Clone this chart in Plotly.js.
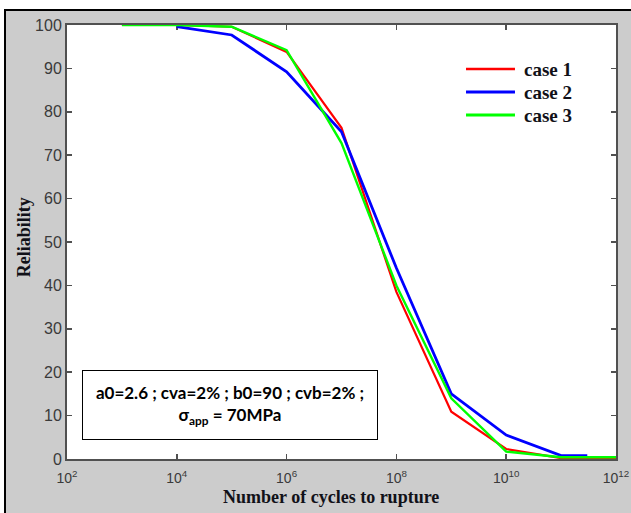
<!DOCTYPE html>
<html>
<head>
<meta charset="utf-8">
<script src="https://cdn.plot.ly/plotly-3.0.1.min.js"></script>
<style>
  html, body { margin: 0; padding: 0; background: #ffffff; }
  #bg { position: absolute; left: 4px; top: 9px; width: 627px; height: 504px;
        background: #cccccc; border-top: 2px solid #000; border-left: 2px solid #000;
        box-sizing: border-box; }
  #chart { position: absolute; left: 0; top: 0; width: 631px; height: 513px; }
</style>
</head>
<body>
<div id="bg"></div>
<div id="chart"></div>
<script>
// Number of cycles to rupture (x) and reliability (%) for each case
const cycles = [1e3, 1e4, 1e5, 1e6, 1e7, 1e8, 1e9, 1e10, 1e11, 1e12];
const cyclesCase2 = [1e4, 1e5, 1e6, 1e7, 1e8, 1e9, 1e10, 1e11, 3e11];
const case1 = [100, 100, 99.6, 93.8, 76.3, 38.5, 10.9, 2.3, 0.2, 0.1];
const case2 = [99.6, 97.7, 89.2, 75.4, 44.0, 15.0, 5.5, 0.8, 0.8];
const case3 = [100, 100, 99.6, 94.2, 72.8, 40.0, 14.0, 1.7, 0.4, 0.4];
const seriesNames = ['case 1', 'case 2', 'case 3'];
const seriesColors = ['#ff0000', '#0000ff', '#00ff00'];
const yTicks = [0, 10, 20, 30, 40, 50, 60, 70, 80, 90, 100];
const xTickVals = [1e2, 1e4, 1e6, 1e8, 1e10, 1e12];
const xTickText = ['10<sup>2</sup>', '10<sup>4</sup>', '10<sup>6</sup>', '10<sup>8</sup>', '10<sup>10</sup>', '10<sup>12</sup>'];

const serif = '"Liberation Serif", "Times New Roman", serif';
const sans = '"Liberation Sans", Arial, sans-serif';

const widths = [2.2, 2.8, 2.4];
const traces = [
  { x: cycles, y: case1, name: seriesNames[0], mode: 'lines', line: { color: seriesColors[0], width: widths[0] } },
  { x: cyclesCase2, y: case2, name: seriesNames[1], mode: 'lines', line: { color: seriesColors[1], width: widths[1] } },
  { x: cycles, y: case3, name: seriesNames[2], mode: 'lines', line: { color: seriesColors[2], width: widths[2] } }
];

const axisCommon = {
  showgrid: false, zeroline: false, showline: true, linecolor: '#505050', linewidth: 2,
  ticks: 'inside', ticklen: 5, tickwidth: 1.5, tickcolor: '#505050', mirror: 'ticks',
  layer: 'below traces',
  tickfont: { family: sans, size: 16, color: '#3a3a3a' }
};

// Legend drawn as line samples + labels in the upper right
const legendRowsY = [0.8986, 0.8456, 0.7926];
const shapes = seriesNames.map((n, i) => ({
  type: 'line', xref: 'paper', yref: 'paper', x0: 0.7268, x1: 0.816,
  y0: legendRowsY[i], y1: legendRowsY[i], line: { color: seriesColors[i], width: widths[i] + 0.4 }
}));
const legendLabels = seriesNames.map((n, i) => ({
  text: '<b>' + n + '</b>', xref: 'paper', yref: 'paper', x: 0.8288, y: legendRowsY[i],
  xanchor: 'left', yanchor: 'middle', showarrow: false,
  font: { family: serif, size: 19, color: '#111118' }
}));

const layout = {
  width: 631, height: 513,
  margin: { l: 67, r: 15, t: 25, b: 54 },
  paper_bgcolor: 'rgba(0,0,0,0)',
  plot_bgcolor: '#ffffff',
  showlegend: false,
  xaxis: Object.assign({}, axisCommon, {
    type: 'log', range: [2, 12], tickmode: 'array', tickvals: xTickVals, ticktext: xTickText,
    ticklabelstandoff: 5, tickfont: { family: sans, size: 14, color: '#3a3a3a' }
  }),
  yaxis: Object.assign({}, axisCommon, {
    range: [0, 100], tickmode: 'array', tickvals: yTicks, ticktext: yTicks.map(String)
  }),
  shapes: shapes,
  annotations: [
    { text: '<b>Number of cycles to rupture</b>', xref: 'paper', yref: 'paper',
      x: 0.481, y: -0.0876, xanchor: 'center', yanchor: 'middle', showarrow: false,
      font: { family: serif, size: 18, color: '#111118' } },
    { text: '<b>Reliability</b>', xref: 'paper', yref: 'paper', textangle: -90,
      x: -0.0785, y: 0.511, xanchor: 'center', yanchor: 'middle', showarrow: false,
      font: { family: serif, size: 18, color: '#111118' } },
    { text: '<b>a0=2.6 ; cva=2% ; b0=90 ; cvb=2% ;<br>σ<sub>app</sub> = 70MPa</b>',
      xref: 'paper', yref: 'paper', x: 0.2969, y: 0.1244, xanchor: 'center', yanchor: 'middle',
      showarrow: false, align: 'center', width: 294, height: 68,
      bgcolor: '#ffffff', bordercolor: '#000000', borderwidth: 1, borderpad: 0,
      font: { family: '"Lato", "Open Sans", sans-serif', size: 17, color: '#000000' } }
  ].concat(legendLabels)
};

Plotly.newPlot('chart', traces, layout, { displayModeBar: false, staticPlot: true });
</script>
</body>
</html>
